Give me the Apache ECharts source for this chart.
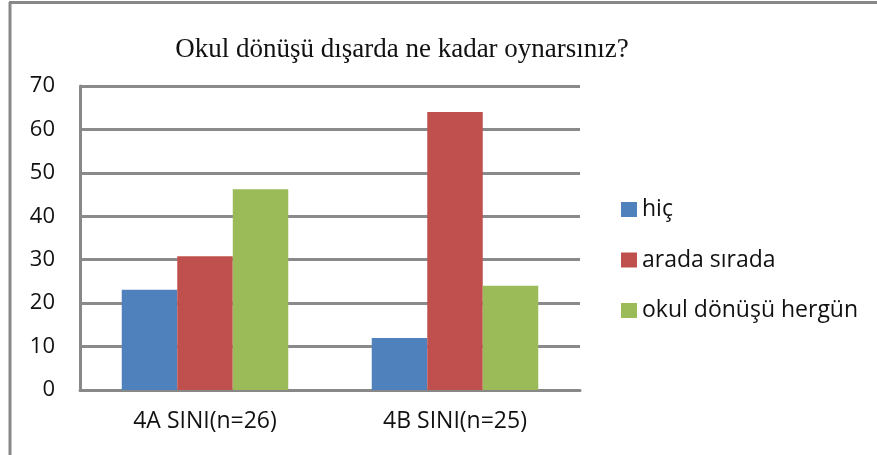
<!DOCTYPE html>
<html>
<head>
<meta charset="utf-8">
<script src="https://cdn.jsdelivr.net/npm/echarts@6/dist/echarts.min.js"></script>
<style>
  html, body { margin: 0; padding: 0; background: #fff; }
  #chart { width: 877px; height: 455px; }
</style>
</head>
<body>
<div id="chart"></div>
<script>
var categories = ['4A SINI(n=26)', '4B SINI(n=25)'];
var seriesNames = ['hiç', 'arada sırada', 'okul dönüşü hergün'];
var hic = [23.1, 12];
var aradaSirada = [30.8, 64];
var hergun = [46.2, 24];
var colors = ['#4f81bd', '#c0504d', '#9bbb59'];

var chart = echarts.init(document.getElementById('chart'));
var font = '"Open Sans", Lato, sans-serif';

var option = {
  animation: false,
  backgroundColor: '#fff',
  title: {
    text: 'Okul dönüşü dışarda ne kadar oynarsınız?',
    left: 397,
    top: 31,
    textAlign: 'center',
    textStyle: {
      fontFamily: '"Liberation Serif", "DejaVu Serif", serif',
      fontWeight: 'normal',
      fontSize: 27,
      color: '#111'
    }
  },
  legend: {
    orient: 'vertical',
    left: 616,
    top: 193,
    itemWidth: 16,
    itemHeight: 15,
    itemGap: 27.5,
    icon: 'rect',
    data: seriesNames,
    textStyle: { fontFamily: font, fontSize: 23, lineHeight: 22, color: '#111' }
  },
  grid: { left: 80, right: 297, top: 86, bottom: 65 },
  xAxis: {
    type: 'category',
    data: categories,
    axisLine: { lineStyle: { color: '#888', width: 3 } },
    axisTick: { show: false },
    axisLabel: { fontFamily: font, fontSize: 23, color: '#111', margin: 20 }
  },
  yAxis: {
    type: 'value',
    min: 0,
    max: 70,
    interval: 10,
    axisLine: { show: true, lineStyle: { color: '#888', width: 3 } },
    axisTick: { show: false },
    splitLine: { lineStyle: { color: '#8a8a8a', width: 3 } },
    axisLabel: { fontFamily: font, fontSize: 22, color: '#111', margin: 25 }
  },
  series: [
    { name: seriesNames[0], type: 'bar', data: hic, barWidth: 55.5, barGap: '0%', itemStyle: { color: colors[0] } },
    { name: seriesNames[1], type: 'bar', data: aradaSirada, barWidth: 55.5, barGap: '0%', itemStyle: { color: colors[1] } },
    { name: seriesNames[2], type: 'bar', data: hergun, barWidth: 55.5, barGap: '0%', itemStyle: { color: colors[2] } }
  ],
  graphic: [
    { type: 'line', shape: { x1: 9, y1: 2.5, x2: 877, y2: 2.5 }, style: { stroke: '#888', lineWidth: 3 } },
    { type: 'line', shape: { x1: 10, y1: 2, x2: 10, y2: 455 }, style: { stroke: '#888', lineWidth: 3 } }
  ]
};
chart.setOption(option);
</script>
</body>
</html>
